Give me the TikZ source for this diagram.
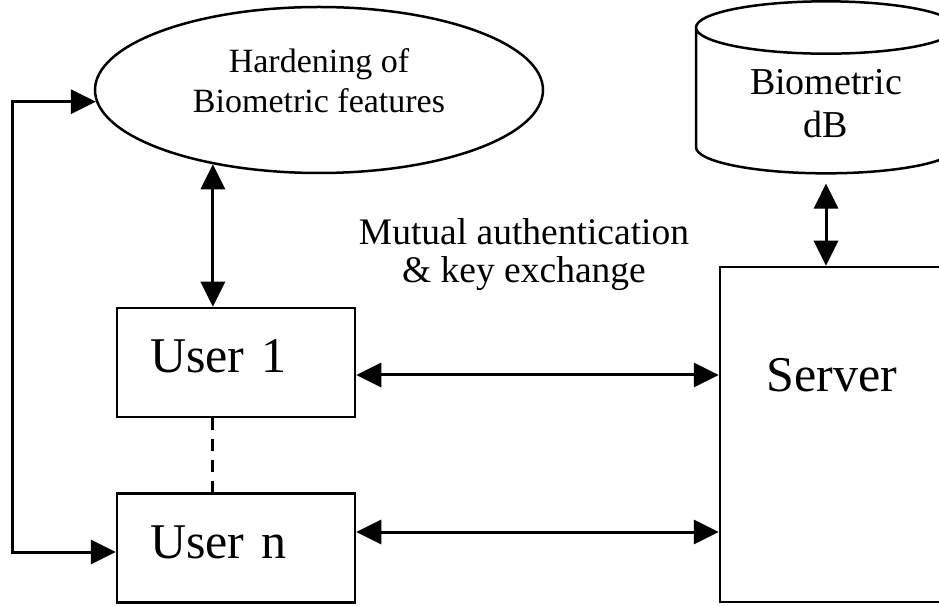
\documentclass[tikz,border=0pt]{standalone}
\usepackage{fontspec}
\setmainfont{Liberation Serif}
\usepackage{tikz}
\usetikzlibrary{arrows.meta, positioning, shapes.geometric}

\begin{document}
\begin{tikzpicture}[x=1pt,y=1pt,>={Triangle[length=25pt,width=24pt]},line width=3pt]
  \tikzstyle{user}=[draw, line width=2.5pt, text width=172pt, inner xsep=33pt, inner ysep=0pt, align=left, text height=65pt, text depth=44pt, font=\fontsize{50}{55}\selectfont]
  \useasboundingbox (0,0) rectangle (939,605);

    \node[ellipse, draw, line width=2.5pt, minimum width=448pt, minimum height=166pt, inner sep=0pt, text depth=18pt, align=center, font=\fontsize{34}{40}\selectfont] (hard) at (319,515) {Hardening of\\Biometric features};
    \node[cylinder, draw, line width=2.5pt, shape border rotate=90, aspect=0.33, minimum width=260pt, minimum height=172pt, align=center, font=\fontsize{38}{43}\selectfont] (db) at (826,501) {Biometric\\dB};
    \node[user]                          (u1)  at (236,242.5) {User 1};
    \node[user, below=185.5pt of u1.center, anchor=center] (un) {User n};
    \node[draw, line width=2.5pt, minimum width=224pt, inner ysep=0pt, text height=125pt, text depth=210pt, font=\fontsize{50}{55}\selectfont] (srv) at (832,170.5) {Server};
    \node[align=center, font=\fontsize{37.5}{38}\selectfont] (mut) at (524,350) {Mutual authentication\\\& key exchange};
    \coordinate (lp) at (12,0);

    \draw[<->] (hard.215) -- (hard.215 |- u1.north);
    \draw[dash pattern=on 12pt off 9pt] (u1.south -| hard.215) -- (un.north -| hard.215);
    \draw[<->] (hard.183) -- (hard.183 -| lp) -- ([yshift=-4pt]un.west -| lp) -- ([yshift=-4pt]un.west);
    \draw[<->] ([yshift=-12.5pt]u1.east) -- ([yshift=-12.5pt]u1.east -| srv.west);
    \draw[<->] ([yshift=16pt]un.east) -- ([yshift=16pt]un.east -| srv.west);
    \draw[<->] ([yshift=-9pt]db.bottom) -- (db.bottom |- srv.north);

\end{tikzpicture}
\end{document}
